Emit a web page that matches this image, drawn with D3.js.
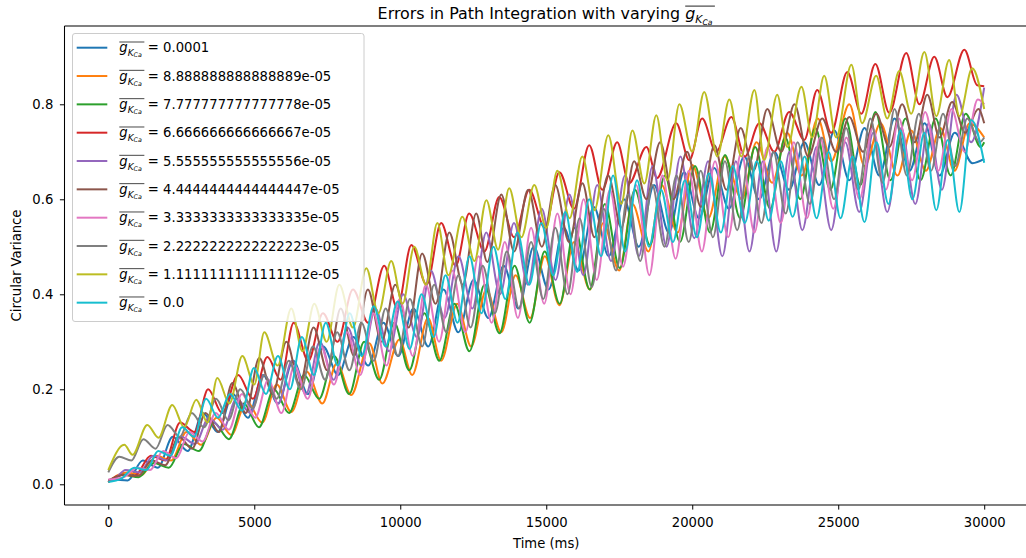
<!DOCTYPE html>
<html>
<head>
<meta charset="utf-8">
<script src="https://cdn.jsdelivr.net/npm/d3@7"></script>
<style>
  body { margin: 0; background: #fff; }
  svg { display: block; font-family: "DejaVu Sans", sans-serif; }
</style>
</head>
<body>
<div id="chart"></div>
<script>
// legend values of g_KCa, in plotting order
const kcaLabels = ["0.0001", "8.888888888888889e-05", "7.777777777777778e-05", "6.666666666666667e-05",
  "5.555555555555556e-05", "4.4444444444444447e-05", "3.3333333333333335e-05", "2.2222222222222223e-05",
  "1.1111111111111112e-05", "0.0"];
const xTicks = [0, 5000, 10000, 15000, 20000, 25000, 30000];
const yTicks = [0, 0.2, 0.4, 0.6, 0.8];

// circular variance, [time (ms), value] read at peaks and troughs
const errG100 = [[0,0.005],[150,0.01],[665,0.008],[1180,0.05],[1700,0.035],[2210,0.10],[2720,0.07],[3240,0.15],[3750,0.11],[4270,0.19],[4780,0.14],[5300,0.23],[5810,0.17],[6330,0.26],[6840,0.19],[7360,0.29],[7870,0.23],[8390,0.31],[8900,0.25],[9420,0.34],[9930,0.27],[10450,0.37],[10960,0.29],[11480,0.41],[11990,0.32],[12510,0.43],[13020,0.35],[13540,0.46],[14050,0.37],[14570,0.50],[15080,0.41],[15600,0.54],[16110,0.45],[16630,0.584],[17140,0.48],[17660,0.60],[18170,0.50],[18690,0.63],[19200,0.53],[19720,0.657],[20230,0.56],[20750,0.666],[21260,0.58],[21780,0.69],[22290,0.60],[22810,0.70],[23320,0.62],[23840,0.72],[24350,0.63],[24870,0.745],[25380,0.64],[25900,0.75],[26410,0.65],[26930,0.77],[27440,0.66],[27960,0.76],[28470,0.65],[28990,0.74],[29600,0.676],[30000,0.685]];
const errG089 = [[0,0.005],[620,0.025],[1150,0.02],[1650,0.06],[2150,0.05],[2680,0.11],[3180,0.083],[3710,0.14],[4210,0.104],[4740,0.175],[5270,0.13],[5770,0.21],[6270,0.152],[6800,0.237],[7330,0.17],[7830,0.255],[8320,0.188],[8940,0.297],[9385,0.212],[9970,0.305],[10410,0.23],[10950,0.35],[11400,0.26],[11950,0.38],[12430,0.29],[12950,0.41],[13460,0.32],[13950,0.44],[14450,0.35],[14950,0.48],[15450,0.377],[15950,0.51],[16500,0.41],[16950,0.55],[17500,0.45],[17950,0.59],[18500,0.49],[18950,0.63],[19500,0.53],[20000,0.672],[20550,0.56],[21100,0.69],[21700,0.60],[22200,0.72],[22740,0.635],[23250,0.74],[23750,0.65],[24300,0.77],[24760,0.68],[25380,0.80],[25900,0.67],[26450,0.76],[27030,0.65],[27500,0.745],[28000,0.66],[28500,0.75],[28980,0.66],[29500,0.76],[30000,0.73]];
const errG078 = [[0,0.005],[520,0.02],[1040,0.015],[1555,0.045],[2070,0.035],[2585,0.085],[3100,0.07],[3615,0.13],[4130,0.095],[4645,0.17],[5160,0.12],[5675,0.20],[6190,0.15],[6705,0.23],[7220,0.18],[7735,0.27],[8250,0.19],[8765,0.30],[9280,0.22],[9795,0.34],[10310,0.24],[10825,0.36],[11340,0.26],[11855,0.38],[12370,0.28],[12885,0.42],[13400,0.318],[13915,0.46],[14430,0.34],[14945,0.49],[15460,0.38],[15975,0.54],[16490,0.41],[17005,0.59],[17520,0.455],[18035,0.62],[18550,0.504],[19065,0.65],[19580,0.51],[20095,0.67],[20610,0.53],[21125,0.693],[21640,0.56],[22155,0.71],[22670,0.58],[23185,0.73],[23700,0.60],[24215,0.75],[24730,0.62],[25245,0.77],[25760,0.63],[26275,0.784],[26790,0.64],[27305,0.77],[27820,0.64],[28335,0.77],[28850,0.65],[29365,0.78],[29880,0.71],[30000,0.72]];
const errG067 = [[0,0.005],[460,0.02],[900,0.018],[1460,0.06],[1950,0.05],[2460,0.13],[2950,0.11],[3420,0.20],[3900,0.15],[4450,0.23],[4950,0.18],[5450,0.268],[5900,0.22],[6350,0.34],[6850,0.26],[7350,0.36],[7850,0.30],[8380,0.41],[8900,0.34],[9450,0.46],[9900,0.37],[10380,0.504],[10900,0.42],[11400,0.55],[11900,0.46],[12360,0.57],[12880,0.49],[13390,0.605],[13900,0.52],[14420,0.62],[14950,0.54],[15450,0.657],[15950,0.58],[16470,0.714],[16920,0.62],[17430,0.72],[17840,0.634],[18430,0.71],[18800,0.645],[19450,0.76],[19900,0.682],[20340,0.77],[20820,0.70],[21340,0.773],[21800,0.69],[22300,0.76],[22810,0.70],[23320,0.784],[23840,0.725],[24280,0.83],[24760,0.74],[25310,0.868],[25790,0.78],[26270,0.885],[26750,0.782],[27330,0.908],[27780,0.80],[28290,0.90],[28740,0.815],[29320,0.915],[29760,0.84],[30000,0.838]];
const errG056 = [[0,0.008],[120,0.008],[595,0.03],[1070,0.025],[1545,0.06],[2020,0.05],[2495,0.10],[2970,0.085],[3445,0.14],[3920,0.115],[4395,0.18],[4870,0.15],[5345,0.23],[5820,0.17],[6295,0.26],[6770,0.19],[7245,0.30],[7720,0.22],[8195,0.33],[8670,0.25],[9145,0.37],[9620,0.28],[10095,0.40],[10570,0.31],[11045,0.45],[11520,0.35],[11995,0.48],[12470,0.37],[12945,0.53],[13420,0.40],[13895,0.55],[14370,0.42],[14845,0.58],[15320,0.43],[15795,0.61],[16270,0.44],[16745,0.63],[17220,0.47],[17695,0.65],[18170,0.48],[18645,0.67],[19120,0.50],[19595,0.69],[20070,0.518],[20545,0.68],[21030,0.48],[21495,0.68],[21960,0.49],[22420,0.68],[22880,0.49],[23330,0.70],[23770,0.535],[24260,0.71],[24760,0.535],[25240,0.72],[25720,0.573],[26200,0.74],[26680,0.573],[27160,0.75],[27640,0.59],[28100,0.76],[28550,0.62],[29050,0.82],[29550,0.72],[30000,0.835]];
const errG044 = [[0,0.008],[570,0.02],[1030,0.018],[1490,0.05],[1950,0.04],[2410,0.10],[2870,0.075],[3330,0.15],[3790,0.11],[4250,0.213],[4710,0.15],[5170,0.266],[5630,0.19],[6100,0.30],[6560,0.21],[7030,0.33],[7500,0.24],[7960,0.37],[8420,0.27],[8890,0.41],[9360,0.30],[9830,0.42],[10290,0.33],[10750,0.486],[11210,0.38],[11680,0.53],[12140,0.42],[12600,0.57],[12980,0.468],[13460,0.61],[13900,0.49],[14380,0.62],[14850,0.50],[15310,0.63],[15780,0.51],[16240,0.634],[16650,0.52],[17120,0.65],[17570,0.54],[18010,0.68],[18430,0.60],[18900,0.72],[19360,0.60],[19820,0.70],[20300,0.584],[20760,0.714],[21170,0.62],[21660,0.75],[22100,0.66],[22570,0.79],[23050,0.70],[23500,0.80],[23970,0.69],[24450,0.77],[24930,0.70],[25380,0.773],[25850,0.70],[26300,0.78],[26750,0.71],[27190,0.80],[27620,0.72],[28050,0.82],[28470,0.73],[28900,0.805],[29350,0.74],[29800,0.79],[30000,0.76]];
const errG033 = [[0,0.01],[530,0.015],[980,0.035],[1430,0.03],[1880,0.07],[2330,0.055],[2780,0.11],[3230,0.09],[3680,0.15],[4130,0.115],[4580,0.19],[5030,0.14],[5480,0.22],[5930,0.15],[6380,0.25],[6830,0.18],[7280,0.29],[7730,0.21],[8180,0.32],[8630,0.23],[9080,0.36],[9530,0.25],[9980,0.39],[10430,0.27],[10880,0.42],[11330,0.30],[11780,0.45],[12230,0.32],[12680,0.48],[13130,0.34],[13580,0.51],[14030,0.35],[14480,0.54],[14930,0.38],[15380,0.57],[15830,0.40],[16280,0.60],[16730,0.43],[17180,0.62],[17630,0.458],[18080,0.63],[18530,0.44],[18980,0.65],[19430,0.475],[19880,0.66],[20330,0.49],[20780,0.68],[21230,0.52],[21680,0.70],[22130,0.53],[22580,0.71],[23030,0.55],[23480,0.72],[23930,0.56],[24380,0.73],[24830,0.58],[25280,0.73],[25730,0.60],[26180,0.75],[26630,0.62],[27080,0.77],[27530,0.64],[27980,0.784],[28430,0.66],[28880,0.79],[29330,0.70],[29780,0.81],[30000,0.80]];
const errG022 = [[0,0.025],[380,0.058],[790,0.05],[1200,0.095],[1620,0.075],[2030,0.125],[2450,0.10],[2860,0.15],[3280,0.12],[3690,0.18],[4110,0.135],[4520,0.20],[4940,0.16],[5350,0.23],[5770,0.18],[6180,0.26],[6600,0.20],[7010,0.29],[7430,0.22],[7840,0.32],[8260,0.24],[8670,0.34],[9090,0.26],[9500,0.37],[9920,0.27],[10330,0.39],[10750,0.29],[11160,0.42],[11580,0.32],[11990,0.44],[12410,0.33],[12820,0.46],[13240,0.36],[13650,0.49],[14070,0.37],[14480,0.51],[14900,0.39],[15310,0.54],[15730,0.40],[16140,0.56],[16560,0.415],[16970,0.58],[17390,0.45],[17800,0.61],[18220,0.47],[18630,0.63],[19050,0.50],[19460,0.65],[19880,0.51],[20290,0.66],[20710,0.52],[21120,0.68],[21540,0.535],[21950,0.69],[22370,0.55],[22780,0.70],[23200,0.57],[23610,0.72],[24030,0.59],[24440,0.73],[24860,0.60],[25270,0.75],[25690,0.62],[26100,0.77],[26520,0.635],[26930,0.79],[27350,0.65],[27760,0.78],[28180,0.66],[28590,0.78],[29010,0.67],[29420,0.77],[29840,0.72],[30000,0.73]];
const errG011 = [[0,0.03],[548,0.083],[830,0.062],[1336,0.125],[1720,0.098],[2192,0.167],[2600,0.12],[3014,0.178],[3400,0.13],[3733,0.224],[4150,0.17],[4590,0.27],[5000,0.21],[5343,0.32],[5800,0.25],[6268,0.37],[6650,0.28],[7056,0.38],[7480,0.30],[7912,0.42],[8380,0.33],[8837,0.455],[9250,0.36],[9690,0.47],[10080,0.38],[10480,0.50],[10880,0.42],[11270,0.55],[11650,0.44],[12125,0.563],[12540,0.47],[12950,0.598],[13350,0.494],[13730,0.623],[14150,0.52],[14590,0.63],[15000,0.54],[15380,0.66],[15800,0.56],[16235,0.69],[16650,0.577],[17125,0.735],[17570,0.59],[17950,0.745],[18360,0.633],[18770,0.777],[19150,0.64],[19560,0.80],[20000,0.70],[20410,0.826],[20860,0.69],[21270,0.81],[21680,0.69],[22130,0.83],[22470,0.683],[22910,0.82],[23260,0.71],[23740,0.837],[24110,0.73],[24520,0.86],[24930,0.73],[25450,0.883],[25820,0.76],[26300,0.86],[26680,0.77],[27090,0.87],[27500,0.78],[27950,0.91],[28360,0.775],[28800,0.893],[29150,0.775],[29590,0.876],[30000,0.79]];
const errG000 = [[0,0.005],[450,0.012],[890,0.035],[1300,0.03],[1710,0.07],[2120,0.06],[2530,0.12],[2940,0.10],[3350,0.18],[3760,0.14],[4170,0.19],[4580,0.155],[4990,0.245],[5400,0.19],[5810,0.27],[6220,0.20],[6630,0.31],[7040,0.23],[7450,0.34],[7860,0.25],[8270,0.36],[8680,0.27],[9090,0.375],[9500,0.29],[9910,0.385],[10320,0.285],[10730,0.40],[11140,0.31],[11550,0.44],[11960,0.34],[12370,0.48],[12780,0.36],[13190,0.50],[13600,0.39],[14010,0.53],[14420,0.42],[14830,0.55],[15240,0.44],[15650,0.573],[16060,0.447],[16470,0.60],[16880,0.48],[17290,0.65],[17700,0.49],[18110,0.64],[18520,0.50],[18930,0.62],[19340,0.51],[19750,0.64],[20160,0.52],[20570,0.655],[20980,0.53],[21390,0.67],[21800,0.55],[22210,0.68],[22620,0.555],[23030,0.68],[23440,0.563],[23850,0.69],[24260,0.56],[24670,0.70],[25080,0.56],[25490,0.69],[25900,0.552],[26310,0.72],[26720,0.59],[27130,0.745],[27540,0.60],[27950,0.74],[28360,0.577],[28750,0.725],[29150,0.573],[29560,0.767],[30000,0.677]];

const allSeries = [errG100, errG089, errG078, errG067, errG056, errG044, errG033, errG022, errG011, errG000];

const width = 1026, height = 558;
const plot = { left: 64.5, right: 1028, top: 26, bottom: 505 };
const fs = 13.2;

const svg = d3.select("#chart").append("svg")
  .attr("width", width).attr("height", height);

const xScale = d3.scaleLinear().domain([-1500, 31500]).range([plot.left, plot.right]);
const yScale = d3.scaleLinear().domain([-0.0436, 0.9648]).range([plot.bottom, plot.top]);
const colorScale = d3.scaleOrdinal(d3.schemeCategory10);

svg.append("clipPath").attr("id", "clip")
  .append("rect")
    .attr("x", plot.left).attr("y", plot.top)
    .attr("width", plot.right - plot.left).attr("height", plot.bottom - plot.top);

const lineGen = d3.line()
  .x(d => xScale(d[0]))
  .y(d => yScale(d[1]))
  .curve(d3.curveMonotoneX);

const linesG = svg.append("g").attr("clip-path", "url(#clip)");
allSeries.forEach((series, i) => {
  linesG.append("path")
    .datum(series)
    .attr("d", lineGen)
    .attr("fill", "none")
    .attr("stroke", colorScale(i))
    .attr("stroke-width", 2)
    .attr("stroke-linejoin", "round");
});

// axes
const xAxis = svg.append("g")
  .attr("transform", `translate(0, ${plot.bottom})`)
  .call(d3.axisBottom(xScale).tickValues(xTicks).tickFormat(d3.format("d"))
    .tickSize(4.6).tickPadding(8).tickSizeOuter(0));

const yAxis = svg.append("g")
  .attr("transform", `translate(${plot.left}, 0)`)
  .call(d3.axisLeft(yScale).tickValues(yTicks).tickFormat(d3.format(".1f"))
    .tickSize(4.6).tickPadding(6.6).tickSizeOuter(0));

[xAxis, yAxis].forEach(ax => {
  ax.selectAll("text").attr("font-size", fs).attr("font-family", "DejaVu Sans").attr("fill", "#000");
  ax.selectAll("line").attr("stroke", "#000").attr("stroke-width", 1);
  ax.select(".domain").attr("stroke", "#000").attr("stroke-width", 1.05);
});
// stretch bottom spine across the whole axes
xAxis.select(".domain").attr("d", `M${plot.left},0H${plot.right}`);
yAxis.select(".domain").attr("d", `M0,${plot.top}V${plot.bottom}`);

svg.append("line")
  .attr("x1", plot.left).attr("x2", plot.right)
  .attr("y1", plot.top).attr("y2", plot.top)
  .attr("stroke", "#000").attr("stroke-width", 1.05);

// overlined g_{K_Ca}, returns its width
function drawGbar(parent, x, y, size) {
  const t = parent.append("text")
    .attr("x", x).attr("y", y)
    .attr("font-family", "DejaVu Sans").attr("font-size", size);
  t.append("tspan").attr("font-style", "italic").text("g");
  t.append("tspan").attr("font-style", "italic")
    .attr("font-size", size * 0.68).attr("dy", size * 0.3).text("K");
  t.append("tspan").attr("font-style", "italic")
    .attr("font-size", size * 0.48).attr("dy", size * 0.08).text("Ca");
  const w = t.node().getComputedTextLength() + 2.5;
  parent.append("line")
    .attr("x1", x).attr("x2", x + w)
    .attr("y1", y - size * 0.78).attr("y2", y - size * 0.78)
    .attr("stroke", "#000").attr("stroke-width", size * 0.055);
  return w;
}

// title
const titleG = svg.append("g");
const titleText = titleG.append("text")
  .attr("x", 0).attr("y", 18.5)
  .attr("font-size", 15.9).attr("font-family", "DejaVu Sans")
  .text("Errors in Path Integration with varying");
const tw = titleText.node().getComputedTextLength() + 5;
const mw = drawGbar(titleG, tw, 18.5, 15.9);
titleG.attr("transform", `translate(${(plot.left + plot.right) / 2 - (tw + mw) / 2}, 0)`);

// axis labels
svg.append("text")
  .attr("x", (plot.left + plot.right) / 2).attr("y", 547.5)
  .attr("text-anchor", "middle").attr("font-size", fs)
  .text("Time (ms)");
svg.append("text")
  .attr("transform", `translate(21, ${(plot.top + plot.bottom) / 2}) rotate(-90)`)
  .attr("text-anchor", "middle").attr("font-size", fs)
  .text("Circular Variance");

// legend
const legend = svg.append("g");
legend.append("rect")
  .attr("x", 72.5).attr("y", 33.5)
  .attr("width", 291.5).attr("height", 288)
  .attr("rx", 2.5)
  .attr("fill", "#fff").attr("fill-opacity", 0.8)
  .attr("stroke", "#cccccc").attr("stroke-width", 1);

kcaLabels.forEach((label, i) => {
  const cy = 47.7 + i * 28.33;
  legend.append("line")
    .attr("x1", 76.7).attr("x2", 107.3)
    .attr("y1", cy).attr("y2", cy)
    .attr("stroke", colorScale(i)).attr("stroke-width", 2);
  const w = drawGbar(legend, 119.3, cy + 4.6, fs);
  legend.append("text")
    .attr("x", 119.3 + w + 3.5).attr("y", cy + 4.6)
    .attr("font-size", fs)
    .text(`= ${label}`);
});
</script>
</body>
</html>
